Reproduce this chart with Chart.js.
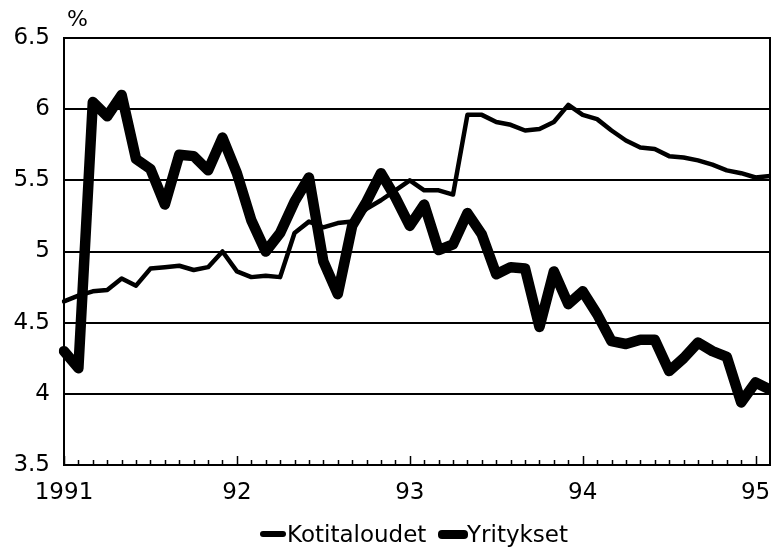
<!DOCTYPE html>
<html>
<head>
<meta charset="utf-8">
<script src="https://cdn.jsdelivr.net/npm/chart.js@4/dist/chart.umd.min.js"></script>
<style>
  body { margin: 0; background: #fff; }
  #wrap { position: relative; width: 771px; height: 548px; font-family: "DejaVu Sans", sans-serif; color: #000; }
  #chart { position: absolute; left: 0; top: 0; }
  .lbl { position: absolute; white-space: nowrap; }
  #unit { left: 67px; top: 8px; font-size: 22px; line-height: 22px; }
  .legtext { top: 523px; font-size: 23px; line-height: 23px; }
  .mark { position: absolute; background: #000; border-radius: 4px; }
</style>
</head>
<body>
<div id="wrap">
  <canvas id="chart" width="771" height="548"></canvas>
  <div id="unit" class="lbl">%</div>
  <div id="legend"></div>
</div>
<script>
// monthly, Jan 1991 .. Feb 1995
const months = [];
for (let y = 1991; y <= 1995; y++) {
    for (let m = 1; m <= 12; m++) {
        if (y === 1995 && m > 2) break;
        months.push(y + "-" + String(m).padStart(2, "0"));
    }
}
const yearLabels = ["1991", "92", "93", "94", "95"];

const kotitaloudet = [
    4.65, 4.69, 4.72, 4.73, 4.81, 4.76, 4.88, 4.89, 4.90, 4.87, 4.89, 5.00,
    4.86, 4.82, 4.83, 4.82, 5.13, 5.21, 5.17, 5.20, 5.21, 5.30, 5.36, 5.43,
    5.50, 5.43, 5.43, 5.40, 5.96, 5.96, 5.91, 5.89, 5.85, 5.86, 5.91, 6.03,
    5.96, 5.93, 5.85, 5.78, 5.73, 5.72, 5.67, 5.66, 5.64, 5.61, 5.57, 5.55,
    5.52, 5.53
];
const yritykset = [
    4.30, 4.18, 6.05, 5.95, 6.10, 5.65, 5.58, 5.33, 5.68, 5.67, 5.57, 5.80,
    5.55, 5.22, 5.00, 5.13, 5.35, 5.52, 4.93, 4.70, 5.18, 5.35, 5.55, 5.38,
    5.18, 5.33, 5.01, 5.05, 5.27, 5.12, 4.84, 4.89, 4.88, 4.47, 4.86, 4.63,
    4.72, 4.56, 4.37, 4.35, 4.38, 4.38, 4.16, 4.25, 4.36, 4.30, 4.26, 3.94,
    4.08, 4.03
];

const seriesNames = ["Kotitaloudet", "Yritykset"];
const font = "'DejaVu Sans', sans-serif";

// legend (html text)
const legend = document.getElementById("legend");
[
    { name: seriesNames[0], markLeft: 260, markW: 26, markH: 6, markTop: 531, textLeft: 287 },
    { name: seriesNames[1], markLeft: 438, markW: 30, markH: 9, markTop: 530, textLeft: 467 }
].forEach(item => {
    const mark = document.createElement("div");
    mark.className = "mark";
    mark.style.left = item.markLeft + "px";
    mark.style.top = item.markTop + "px";
    mark.style.width = item.markW + "px";
    mark.style.height = item.markH + "px";
    legend.appendChild(mark);
    const txt = document.createElement("div");
    txt.className = "lbl legtext";
    txt.style.left = item.textLeft + "px";
    txt.textContent = item.name;
    legend.appendChild(txt);
});

// frame + inward month ticks
const framePlugin = {
    id: "frame",
    afterDatasetsDraw(chart) {
        const { ctx, chartArea: a, scales } = chart;
        const x = scales.x;
        ctx.save();
        ctx.strokeStyle = "#000";
        ctx.lineWidth = 2;
        ctx.strokeRect(a.left, a.top, a.right - a.left, a.bottom - a.top);
        ctx.lineWidth = 1.5;
        ctx.beginPath();
        months.forEach((m, i) => {
            const px = Math.round(x.getPixelForValue(i)) + 0.5;
            const len = i % 12 === 0 ? 9 : 5;
            ctx.moveTo(px, a.bottom);
            ctx.lineTo(px, a.bottom - len);
        });
        ctx.stroke();
        ctx.restore();
    }
};

new Chart(document.getElementById("chart"), {
    type: "line",
    data: {
        labels: months,
        datasets: [
            {
                label: seriesNames[1],
                data: yritykset,
                borderColor: "#000",
                borderWidth: 10.5,
                borderJoinStyle: "round",
                borderCapStyle: "round",
                pointRadius: 0,
                tension: 0,
                fill: false
            },
            {
                label: seriesNames[0],
                data: kotitaloudet,
                borderColor: "#000",
                borderWidth: 4.5,
                borderJoinStyle: "round",
                borderCapStyle: "round",
                pointRadius: 0,
                tension: 0,
                fill: false
            }
        ]
    },
    options: {
        responsive: false,
        animation: false,
        devicePixelRatio: 1,
        layout: { padding: { top: 38, right: 1, bottom: 0, left: 0 } },
        plugins: {
            legend: { display: false },
            tooltip: { enabled: false }
        },
        scales: {
            x: {
                type: "category",
                offset: false,
                afterFit(scale) {
                    scale.height = 83;
                    scale.paddingRight = 0;
                    scale.paddingLeft = 0;
                },
                grid: { display: true, drawOnChartArea: false, drawTicks: false },
                border: { display: true, color: "#000", width: 2 },
                ticks: {
                    autoSkip: false,
                    maxRotation: 0,
                    padding: 14,
                    color: "#000",
                    font: { family: font, size: 23 },
                    callback: (val, idx) => idx % 12 === 0 ? yearLabels[idx / 12] : ""
                }
            },
            y: {
                min: 3.5,
                max: 6.5,
                afterFit(scale) { scale.width = 64; },
                grid: { color: "#000", lineWidth: 2, drawTicks: false },
                border: { display: true, color: "#000", width: 2 },
                ticks: {
                    stepSize: 0.5,
                    padding: 14,
                    color: "#000",
                    font: { family: font, size: 23 },
                    callback: v => String(v)
                }
            }
        }
    },
    plugins: [framePlugin]
});
</script>
</body>
</html>
